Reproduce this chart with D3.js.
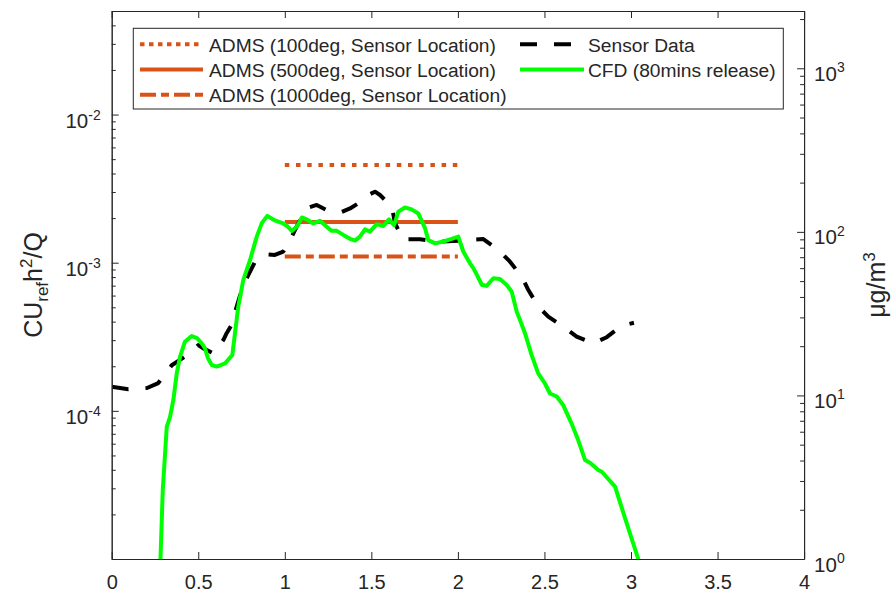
<!DOCTYPE html>
<html>
<head>
<meta charset="utf-8">
<script src="https://cdn.jsdelivr.net/npm/d3@7"></script>
<style>
  html, body { margin: 0; padding: 0; background: #fff; }
  svg text { font-family: "Liberation Sans", Arial, Helvetica, sans-serif; fill: #262626; }
</style>
</head>
<body>
<svg id="chart" width="893" height="594"></svg>
<script>
// ---------------- DATA ----------------
const xTicks = [0, 0.5, 1, 1.5, 2, 2.5, 3, 3.5, 4];
const xTickLabels = ["0", "0.5", "1", "1.5", "2", "2.5", "3", "3.5", "4"];
const leftMajor = [1e-5, 1e-4, 1e-3, 1e-2];
const leftLabelExp = [null, "-4", "-3", "-2"];
const rightMajor = [1, 10, 100, 1000];
const rightLabelExp = ["0", "1", "2", "3"];

// ADMS predictions (left axis), over x = 1..2
const admsX = [1, 2];
const adms100 = [4.56e-3, 4.56e-3];
const adms500 = [1.88e-3, 1.88e-3];
const adms1000 = [1.10e-3, 1.10e-3];

// Sensor data (right axis, µg/m3)
const sensorX = [0, 0.096, 0.204, 0.269, 0.347, 0.423, 0.452, 0.500, 0.529, 0.587, 0.645, 0.664, 0.693,
  0.722, 0.751, 0.789, 0.828, 0.895, 0.943, 0.991, 1.040, 1.078, 1.126, 1.184, 1.242, 1.319, 1.377,
  1.425, 1.482, 1.521, 1.550, 1.618, 1.637, 1.681, 1.781, 1.897, 1.973, 2.070, 2.147, 2.234, 2.301,
  2.369, 2.407, 2.465, 2.522, 2.609, 2.686, 2.782, 2.860, 2.946, 3.017];
const sensor = [11.3, 10.9, 11.1, 11.9, 15.3, 17.3, 18.1, 20.3, 19.4, 18.1, 21.8, 24.0, 27.0,
  34.9, 44.1, 54.5, 65.7, 72.9, 72.3, 75.7, 93.4, 112.8, 139.3, 146, 136, 131, 139,
  149.5, 168, 176, 168, 142.5, 112.8, 90.1, 90.1, 87.1, 87.9, 89.2, 90.4, 77.4, 65.7,
  53.2, 44.1, 34.9, 30.3, 26.3, 22.9, 20.8, 22.7, 26.7, 27.8];

// CFD (80 mins release), left axis
const cfdX = [0.279, 0.295, 0.318, 0.337, 0.356, 0.376, 0.395, 0.423, 0.462, 0.493, 0.520, 0.539, 0.556,
  0.578, 0.607, 0.655, 0.697, 0.712, 0.731, 0.760, 0.799, 0.838, 0.867, 0.899, 0.938, 0.991, 1.013,
  1.040, 1.069, 1.099, 1.127, 1.165, 1.203, 1.242, 1.271, 1.300, 1.338, 1.377, 1.406, 1.434, 1.463,
  1.492, 1.531, 1.569, 1.602, 1.631, 1.656, 1.694, 1.733, 1.771, 1.810, 1.829, 1.868, 1.916, 1.964,
  2.002, 2.031, 2.070, 2.089, 2.109, 2.138, 2.166, 2.205, 2.243, 2.282, 2.311, 2.340, 2.359, 2.388,
  2.426, 2.464, 2.503, 2.532, 2.571, 2.609, 2.657, 2.695, 2.734, 2.763, 2.811, 2.831, 2.908, 2.966,
  3.042, 3.055];
const cfd = [8e-6, 2.92e-5, 7.8e-5, 9.1e-5, 1.18e-4, 1.80e-4, 2.32e-4, 2.93e-4, 3.20e-4, 3.10e-4, 2.86e-4, 2.64e-4, 2.27e-4,
  2.04e-4, 1.99e-4, 2.09e-4, 2.38e-4, 3.33e-4, 5.04e-4, 7.64e-4, 1.04e-3, 1.50e-3, 1.85e-3, 2.07e-3, 1.94e-3, 1.84e-3, 1.77e-3,
  1.64e-3, 1.75e-3, 2.02e-3, 1.96e-3, 1.84e-3, 1.92e-3, 1.75e-3, 1.64e-3, 1.64e-3, 1.54e-3, 1.45e-3, 1.41e-3, 1.50e-3, 1.68e-3,
  1.62e-3, 1.82e-3, 1.77e-3, 1.96e-3, 1.79e-3, 2.21e-3, 2.36e-3, 2.29e-3, 2.15e-3, 1.71e-3, 1.42e-3, 1.35e-3, 1.39e-3, 1.45e-3,
  1.50e-3, 1.19e-3, 9.9e-4, 9.2e-4, 8.3e-4, 7.1e-4, 6.97e-4, 7.85e-4, 7.76e-4, 7.07e-4, 6.37e-4, 4.67e-4, 4.10e-4, 3.33e-4,
  2.38e-4, 1.79e-4, 1.53e-4, 1.31e-4, 1.25e-4, 1.09e-4, 8.2e-5, 6.35e-5, 4.66e-5, 4.47e-5, 3.99e-5, 3.88e-5, 3.08e-5, 1.88e-5,
  1.0e-5, 8e-6];

const legendLabels = ["ADMS (100deg, Sensor Location)", "ADMS (500deg, Sensor Location)",
  "ADMS (1000deg, Sensor Location)", "Sensor Data", "CFD (80mins release)"];

// ---------------- LAYOUT ----------------
const L = 111.7, R = 804.1, T = 11, B = 559;
const axisColor = "#262626";
const orange = "#D95319", green = "#00FF00", black = "#000000";
const LW = 4;

const svg = d3.select("#chart");
const x = d3.scaleLinear().domain([0, 4]).range([L, R]);
const yL = d3.scaleLog().domain([1e-5, 0.05]).range([B, T]);
const yR = d3.scaleLog().domain([1, 2240]).range([B, T]);

function minorsFor(lo, hi) {
  const out = [];
  for (let e = Math.floor(Math.log10(lo)); e <= Math.ceil(Math.log10(hi)); e++) {
    for (let m = 2; m <= 9; m++) {
      const v = m * Math.pow(10, e);
      if (v >= lo * 0.9999 && v <= hi * 1.0001) out.push(v);
    }
  }
  return out;
}

svg.append("defs").append("clipPath").attr("id", "plotclip")
  .append("rect").attr("x", L).attr("y", T).attr("width", R - L).attr("height", B - T);

// ---------------- DATA LINES ----------------
const plot = svg.append("g").attr("clip-path", "url(#plotclip)");
const lineL = d3.line().x(d => x(d[0])).y(d => yL(d[1]));
const lineR = d3.line().x(d => x(d[0])).y(d => yR(d[1]));

plot.append("path").datum(admsX.map((v, i) => [v, adms100[i]])).attr("d", lineL)
  .attr("fill", "none").attr("stroke", orange).attr("stroke-width", LW).attr("stroke-dasharray", "4.5,6.7");
plot.append("path").datum(admsX.map((v, i) => [v, adms500[i]])).attr("d", lineL)
  .attr("fill", "none").attr("stroke", orange).attr("stroke-width", LW);
plot.append("path").datum(admsX.map((v, i) => [v, adms1000[i]])).attr("d", lineL)
  .attr("fill", "none").attr("stroke", orange).attr("stroke-width", LW).attr("stroke-dasharray", "16,5,8,5");

plot.append("path").datum(sensorX.map((v, i) => [v, sensor[i]])).attr("d", lineR)
  .attr("fill", "none").attr("stroke", black).attr("stroke-width", LW).attr("stroke-dasharray", "17,17")
  .attr("stroke-linejoin", "round");

plot.append("path").datum(cfdX.map((v, i) => [v, cfd[i]])).attr("d", lineL)
  .attr("fill", "none").attr("stroke", green).attr("stroke-width", LW).attr("stroke-linejoin", "round");

// ---------------- AXES ----------------
function styleAxis(g) {
  g.selectAll(".domain").attr("stroke", axisColor).attr("stroke-width", 1);
  g.selectAll(".tick line").attr("stroke", axisColor).attr("stroke-width", 1);
}

// bottom
const gB = svg.append("g").attr("transform", `translate(0,${B})`)
  .call(d3.axisBottom(x).tickValues(xTicks).tickSizeInner(-7).tickSizeOuter(0).tickPadding(16)
    .tickFormat((d, i) => xTickLabels[i]));
styleAxis(gB);
gB.selectAll(".tick text").attr("font-size", 20).attr("fill", axisColor);

// top
const gT = svg.append("g").attr("transform", `translate(0,${T})`)
  .call(d3.axisTop(x).tickValues(xTicks).tickSizeInner(-7).tickSizeOuter(0).tickFormat(""));
styleAxis(gT);

// left (major + minor)
const gLm = svg.append("g").attr("transform", `translate(${L},0)`)
  .call(d3.axisLeft(yL).tickValues(minorsFor(1e-5, 0.05)).tickSizeInner(-4).tickSizeOuter(0).tickFormat(""));
styleAxis(gLm);
const gL = svg.append("g").attr("transform", `translate(${L},0)`)
  .call(d3.axisLeft(yL).tickValues(leftMajor).tickSizeInner(-7).tickSizeOuter(0).tickFormat(""));
styleAxis(gL);

// right (major + minor)
const gRm = svg.append("g").attr("transform", `translate(${R},0)`)
  .call(d3.axisRight(yR).tickValues(minorsFor(1, 2240)).tickSizeInner(-4).tickSizeOuter(0).tickFormat(""));
styleAxis(gRm);
const gR = svg.append("g").attr("transform", `translate(${R},0)`)
  .call(d3.axisRight(yR).tickValues(rightMajor).tickSizeInner(-7).tickSizeOuter(0).tickFormat(""));
styleAxis(gR);

// log tick labels (10^n)
function powLabel(parent, xPos, yPos, exp, anchor) {
  const t = parent.append("text").attr("x", xPos).attr("y", yPos)
    .attr("text-anchor", anchor).attr("font-size", 20.5).attr("fill", axisColor);
  t.append("tspan").text("10");
  t.append("tspan").attr("dy", -8.5).attr("font-size", 14).text(exp);
  return t;
}
leftMajor.forEach((v, i) => {
  if (leftLabelExp[i] !== null) powLabel(svg, L - 11, yL(v) + 13.5, leftLabelExp[i], "end");
});
rightMajor.forEach((v, i) => {
  powLabel(svg, R + 10, yR(v) + 12.5, rightLabelExp[i], "start");
});

// axis titles
const yl = svg.append("text").attr("transform", `translate(42,${(T + B) / 2}) rotate(-90)`)
  .attr("text-anchor", "middle").attr("font-size", 25).attr("fill", axisColor);
yl.append("tspan").text("CU");
yl.append("tspan").attr("dy", 6).attr("font-size", 17).text("ref");
yl.append("tspan").attr("dy", -6).text("h");
yl.append("tspan").attr("dy", -10).attr("font-size", 17).text("2");
yl.append("tspan").attr("dy", 10).text("/Q");

const yr = svg.append("text").attr("transform", `translate(885,${(T + B) / 2}) rotate(-90)`)
  .attr("text-anchor", "middle").attr("font-size", 25).attr("fill", axisColor);
yr.append("tspan").text("μg/m");
yr.append("tspan").attr("dy", -10).attr("font-size", 17).text("3");

// ---------------- LEGEND ----------------
const lg = svg.append("g");
lg.append("rect").attr("x", 133.3).attr("y", 28.3).attr("width", 650).attr("height", 80.7)
  .attr("fill", "#fff").attr("stroke", axisColor).attr("stroke-width", 1);
const rowsY = [44.2, 69.5, 94.8];
const legendItems = [
  { col: 0, row: 0, color: orange, dash: "4.5,4.5", label: legendLabels[0] },
  { col: 0, row: 1, color: orange, dash: null, label: legendLabels[1] },
  { col: 0, row: 2, color: orange, dash: "16,5,8,5", label: legendLabels[2] },
  { col: 1, row: 0, color: black, dash: "17,17", label: legendLabels[3] },
  { col: 1, row: 1, color: green, dash: null, label: legendLabels[4] }
];
const colX = [{ x0: 140, x1: 203, tx: 209 }, { x0: 520, x1: 584, tx: 588 }];
legendItems.forEach(it => {
  const c = colX[it.col], yy = rowsY[it.row];
  const ln = lg.append("line").attr("x1", c.x0).attr("x2", c.x1).attr("y1", yy).attr("y2", yy)
    .attr("stroke", it.color).attr("stroke-width", LW);
  if (it.dash) ln.attr("stroke-dasharray", it.dash);
  lg.append("text").attr("x", c.tx).attr("y", yy + 7.5).attr("font-size", 19.2).attr("fill", "#000")
    .text(it.label);
});
</script>
</body>
</html>
